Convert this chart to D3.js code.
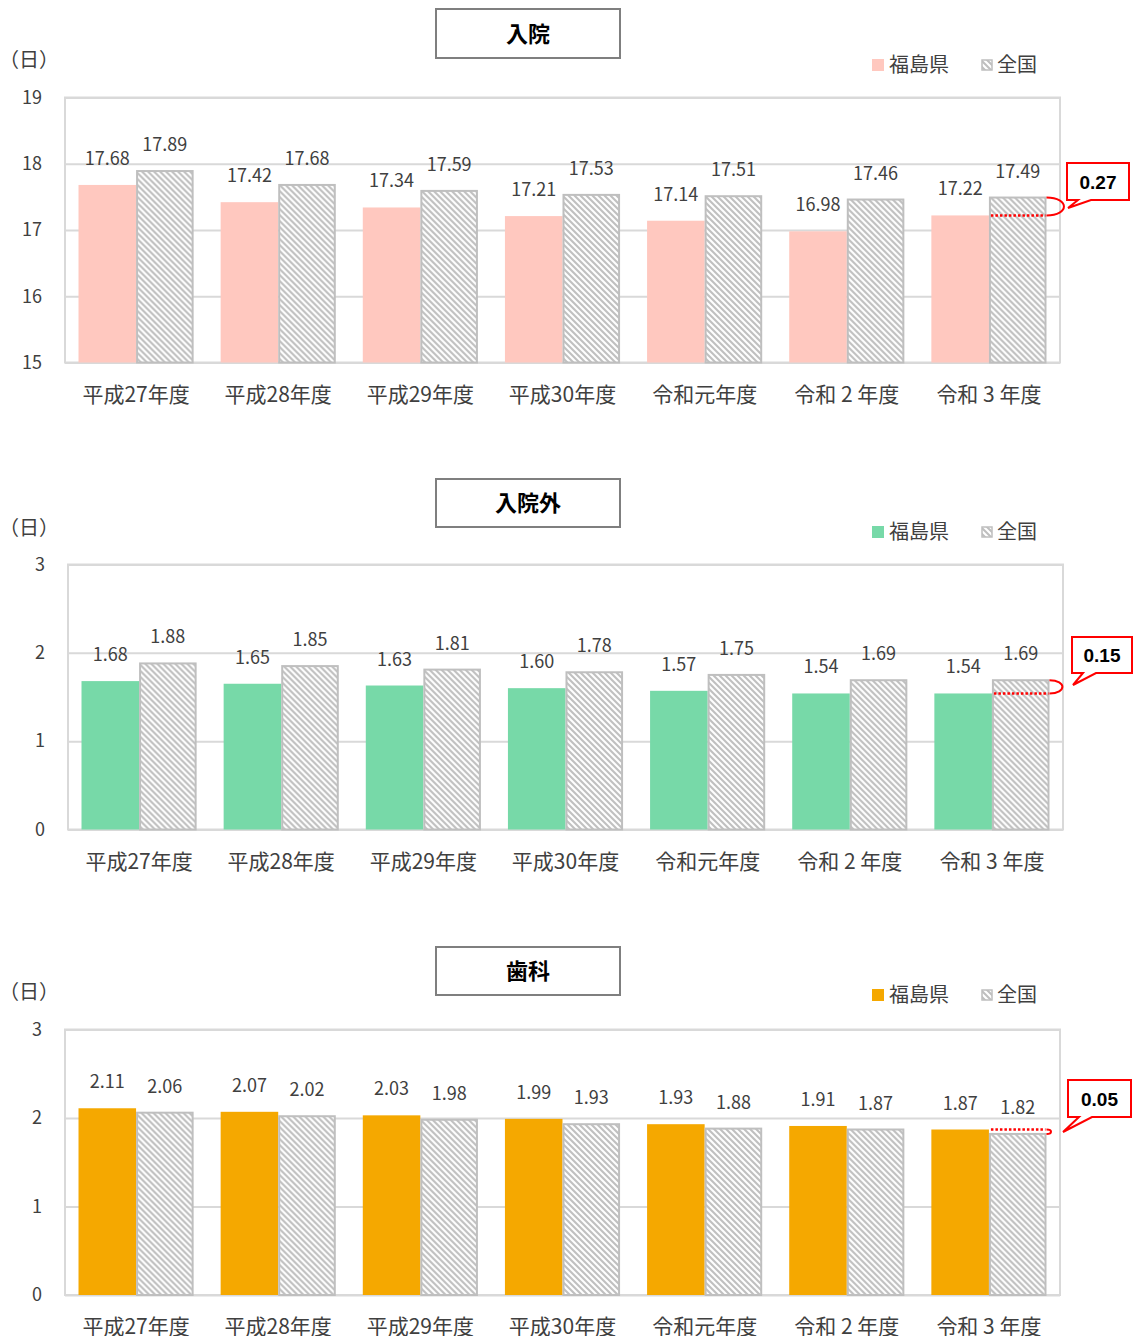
<!DOCTYPE html>
<html lang="ja">
<head>
<meta charset="utf-8">
<script src="https://cdn.jsdelivr.net/npm/d3@7"></script>
<style>
  html, body { margin: 0; padding: 0; background: #fff; }
  svg { display: block; font-family: "Noto Sans CJK JP", "Noto Sans", sans-serif; }
</style>
</head>
<body>
<svg id="chart" width="1135" height="1336"></svg>
<script>
// 年度区分
const years = ["平成27年度", "平成28年度", "平成29年度", "平成30年度", "令和元年度", "令和 2 年度", "令和 3 年度"];
const seriesNames = ["福島県", "全国"];

// 入院（日）
const inpatientPref = [17.68, 17.42, 17.34, 17.21, 17.14, 16.98, 17.22];
const inpatientNat  = [17.89, 17.68, 17.59, 17.53, 17.51, 17.46, 17.49];
const inpatientTicks = [15, 16, 17, 18, 19];

// 入院外（日）
const outpatientPref = [1.68, 1.65, 1.63, 1.60, 1.57, 1.54, 1.54];
const outpatientNat  = [1.88, 1.85, 1.81, 1.78, 1.75, 1.69, 1.69];
const outpatientTicks = [0, 1, 2, 3];

// 歯科（日）
const dentalPref = [2.11, 2.07, 2.03, 1.99, 1.93, 1.91, 1.87];
const dentalNat  = [2.06, 2.02, 1.98, 1.93, 1.88, 1.87, 1.82];
const dentalTicks = [0, 1, 2, 3];

const panels = [
  { title: "入院", pref: inpatientPref, nat: inpatientNat, ticks: inpatientTicks,
    color: "#FFC8BF", left: 65, right: 1060, top: 97.5, bottom: 362.5,
    titleBox: [436, 9, 184, 49], legendY: 65, unitY: 60,
    callout: { x: 1067, y: 163, w: 62, h: 37, tipX: 1068, tipY: 208 } },
  { title: "入院外", pref: outpatientPref, nat: outpatientNat, ticks: outpatientTicks,
    color: "#77D9A8", left: 68, right: 1063, top: 564.5, bottom: 829.5,
    titleBox: [436, 479, 184, 48], legendY: 532, unitY: 528,
    callout: { x: 1072, y: 637, w: 60, h: 36, tipX: 1073, tipY: 685 } },
  { title: "歯科", pref: dentalPref, nat: dentalNat, ticks: dentalTicks,
    color: "#F5A800", left: 65, right: 1060, top: 1029.5, bottom: 1295,
    titleBox: [436, 947, 184, 48], legendY: 995, unitY: 992,
    callout: { x: 1068, y: 1080, w: 63, h: 37, tipX: 1063, tipY: 1132 } }
];

const svg = d3.select("#chart");
const textColor = "#404040";
const gridColor = "#D9D9D9";
const hatchColor = "#BFBFBF";

// 全国用の斜線パターン
const defs = svg.append("defs");
const pat = defs.append("pattern")
  .attr("id", "hatch")
  .attr("patternUnits", "userSpaceOnUse")
  .attr("width", 6).attr("height", 6);
pat.append("rect").attr("width", 6).attr("height", 6).attr("fill", "#fff");
pat.append("path")
  .attr("d", "M0,0 L6,6 M-3,3 L3,9 M3,-3 L9,3")
  .attr("stroke", hatchColor).attr("stroke-width", 2.1);

panels.forEach(p => {
  const g = svg.append("g");
  const ext = d3.extent(p.ticks);

  const y = d3.scaleLinear().domain(ext).range([p.bottom, p.top]);
  const x = d3.scaleBand().domain(years).range([p.left, p.right])
    .paddingInner(0.19).paddingOuter(0.095);
  const xs = d3.scaleBand().domain(seriesNames).range([0, x.bandwidth()]);

  // グリッド線と目盛ラベル
  const yAxis = g.append("g")
    .attr("transform", `translate(${p.left},0)`)
    .call(d3.axisLeft(y).tickValues(p.ticks).tickFormat(d3.format("d"))
      .tickSize(-(p.right - p.left)).tickPadding(23));
  yAxis.select(".domain").remove();
  yAxis.selectAll(".tick line").attr("stroke", gridColor).attr("stroke-width", 2);
  yAxis.selectAll(".tick text")
    .attr("fill", textColor).attr("font-size", 18)
    .attr("font-family", "'Noto Sans CJK JP', sans-serif");

  // プロット枠
  g.append("rect")
    .attr("x", p.left).attr("y", p.top)
    .attr("width", p.right - p.left).attr("height", p.bottom - p.top)
    .attr("fill", "none").attr("stroke", gridColor).attr("stroke-width", 2);

  const rows = years.map((yr, i) => ({ yr, vals: [p.pref[i], p.nat[i]] }));

  const grp = g.selectAll(".grp").data(rows).join("g")
    .attr("transform", d => `translate(${x(d.yr)},0)`);

  grp.selectAll("rect.bar")
    .data(d => d.vals.map((v, j) => ({ v, s: seriesNames[j] })))
    .join("rect")
    .attr("class", "bar")
    .attr("x", d => xs(d.s) + (d.s === "全国" ? 1 : 0))
    .attr("width", d => xs.bandwidth() - (d.s === "全国" ? 2 : 0))
    .attr("y", d => y(d.v))
    .attr("height", d => y(ext[0]) - y(d.v))
    .attr("fill", d => d.s === "全国" ? "url(#hatch)" : p.color)
    .attr("stroke", d => d.s === "全国" ? hatchColor : "none")
    .attr("stroke-width", 2);

  grp.selectAll("text.val")
    .data(d => d.vals.map((v, j) => ({ v, s: seriesNames[j] })))
    .join("text")
    .attr("class", "val")
    .attr("x", d => xs(d.s) + xs.bandwidth() / 2)
    .attr("y", d => y(d.v) - 20)
    .attr("text-anchor", "middle")
    .attr("font-size", 18).attr("fill", textColor)
    .text(d => d3.format(".2f")(d.v));

  // 年度ラベル
  g.selectAll("text.cat").data(years).join("text")
    .attr("class", "cat")
    .attr("x", d => x(d) + x.bandwidth() / 2)
    .attr("y", p.bottom + 39)
    .attr("text-anchor", "middle")
    .attr("font-size", 21).attr("fill", textColor)
    .text(d => d);

  // タイトル枠
  const [tx, ty, tw, th] = p.titleBox;
  g.append("rect").attr("x", tx).attr("y", ty).attr("width", tw).attr("height", th)
    .attr("fill", "#fff").attr("stroke", "#7F7F7F").attr("stroke-width", 2);
  g.append("text").attr("x", tx + tw / 2).attr("y", ty + th / 2 + 8)
    .attr("text-anchor", "middle").attr("font-size", 22).attr("font-weight", "bold")
    .attr("fill", "#000").text(p.title);

  // 単位
  g.append("text").attr("x", 29).attr("y", p.unitY + 7)
    .attr("text-anchor", "middle").attr("font-size", 20).attr("fill", textColor)
    .text("（日）");

  // 凡例
  const lg = g.append("g").attr("transform", `translate(872,${p.legendY})`);
  lg.append("rect").attr("x", 0).attr("y", -6).attr("width", 12).attr("height", 12)
    .attr("fill", p.color);
  lg.append("text").attr("x", 17).attr("y", 7).attr("font-size", 20)
    .attr("fill", textColor).text(seriesNames[0]);
  lg.append("rect").attr("x", 110).attr("y", -5).attr("width", 10).attr("height", 10)
    .attr("fill", "url(#hatch)").attr("stroke", hatchColor).attr("stroke-width", 1.5);
  lg.append("text").attr("x", 125).attr("y", 7).attr("font-size", 20)
    .attr("fill", textColor).text(seriesNames[1]);

  // 最終年度の差
  const last = years.length - 1;
  const pv = p.pref[last], nv = p.nat[last];
  const diff = Math.abs(nv - pv);
  const gx0 = x(years[last]) + xs("全国");
  const gx1 = gx0 + xs.bandwidth();
  const yP = y(pv), yN = y(nv);

  g.append("line")
    .attr("x1", gx0 + 2).attr("x2", gx1 - 1).attr("y1", yP).attr("y2", yP)
    .attr("stroke", "#FF0000").attr("stroke-width", 2.5)
    .attr("stroke-dasharray", "2.5,2");
  const bulge = Math.max(6, Math.abs(yP - yN) * 1.3);
  g.append("path")
    .attr("d", `M${gx1},${yN} C${gx1 + bulge},${yN} ${gx1 + bulge},${yP} ${gx1},${yP}`)
    .attr("fill", "none").attr("stroke", "#FF0000").attr("stroke-width", 2);

  const c = p.callout;
  const bx0 = c.x, by0 = c.y, bx1 = c.x + c.w, by1 = c.y + c.h;
  g.append("path")
    .attr("d", `M${bx0},${by0} L${bx1},${by0} L${bx1},${by1} L${bx0 + 24},${by1} ` +
               `L${c.tipX},${c.tipY} L${bx0 + 11},${by1} L${bx0},${by1} Z`)
    .attr("fill", "#fff").attr("stroke", "#FF0000").attr("stroke-width", 2)
    .attr("stroke-linejoin", "miter");
  g.append("text").attr("x", (bx0 + bx1) / 2).attr("y", (by0 + by1) / 2 + 7)
    .attr("text-anchor", "middle").attr("font-size", 19).attr("font-weight", "bold")
    .attr("font-family", "'Liberation Sans', Arial, sans-serif")
    .attr("fill", "#000").text(d3.format(".2f")(diff));
});
</script>
</body>
</html>
